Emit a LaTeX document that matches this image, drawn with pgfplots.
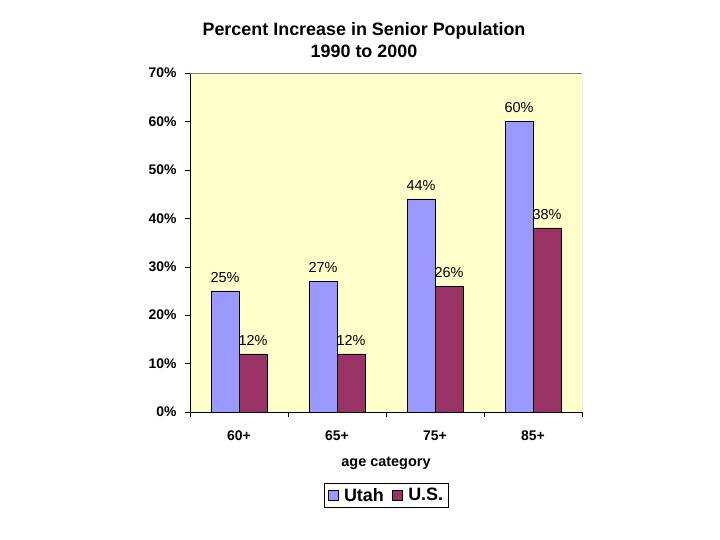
\documentclass[border=0pt]{standalone}
\usepackage{pgfplots}
\pgfplotsset{compat=1.18}
\usepackage{fontspec}
\setmainfont{Liberation Sans}
\definecolor{bgy}{HTML}{FFFFCC}
\definecolor{utah}{HTML}{9999FF}
\definecolor{us}{HTML}{993366}
\begin{document}
\begin{tikzpicture}
\path[use as bounding box] (0,0) rectangle (720bp,540bp);
\node[align=center, font=\fontsize{18}{21.5}\selectfont\bfseries] at (364bp,500bp) {Percent Increase in Senior Population\\1990 to 2000};
\begin{axis}[
  at={(190bp,128bp)}, anchor=south west,
  scale only axis, width=392bp, height=339bp,
  ybar=0pt, bar width=28bp,
  xmin=-0.5, xmax=3.5, ymin=0, ymax=70,
  axis lines=left, axis line style={-, black},
  axis background/.style={fill=bgy},
  xtick={0,1,2,3}, xticklabels={60+,65+,75+,85+},
  minor xtick={-0.5,0.5,1.5,2.5,3.5},
  ytick={0,10,...,70},
  yticklabel={\pgfmathprintnumber{\tick}\%},
  /pgf/number format/assume math mode=true,
  tick align=outside,
  major tick length=5bp, minor tick length=5bp,
  tick style={black},
  every major x tick/.append style={draw=none},
  ticklabel style={font=\fontsize{14}{16}\selectfont\bfseries},
  yticklabel style={xshift=-5bp},
  xticklabel style={yshift=-10bp},
  xlabel={age category},
  xlabel style={at={(axis description cs:0.5,-0.15)}, anchor=center, font=\fontsize{14.5}{16}\selectfont\bfseries},
  nodes near coords={\pgfmathprintnumber{\pgfplotspointmeta}\%},
  nodes near coords style={font=\fontsize{14.5}{16}\selectfont, anchor=south, yshift=5bp},
  legend columns=2,
  legend style={at={(0.501,-0.246)}, anchor=center, draw=black, font=\fontsize{18}{20}\selectfont\bfseries, inner xsep=3bp, inner ysep=3bp, /tikz/every odd column/.append style={column sep=4bp}, /tikz/every even column/.append style={column sep=6bp}},
  legend image code/.code={\draw[#1, draw=black] (0bp,-5bp) rectangle (10bp,5bp);},
]
\draw[gray] (rel axis cs:0,1) -- (rel axis cs:1,1) -- (rel axis cs:1,0);
\addplot[fill=utah, draw=black] coordinates {(0,25) (1,27) (2,44) (3,60)};
\addplot[fill=us, draw=black] coordinates {(0,12) (1,12) (2,26) (3,38)};
\legend{Utah, U.S.}
\end{axis}
\end{tikzpicture}
\end{document}
